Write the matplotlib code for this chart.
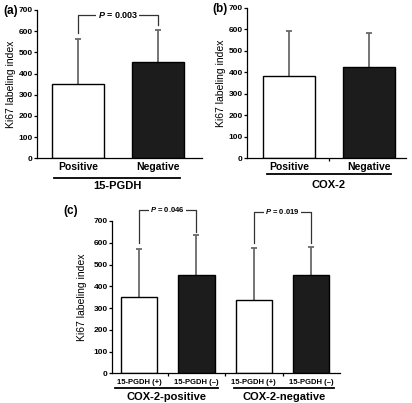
import matplotlib.pyplot as plt
from matplotlib.transforms import blended_transform_factory
from matplotlib.lines import Line2D

plt.rcParams['font.family'] = ['Liberation Sans', 'DejaVu Sans']
plt.rcParams['font.weight'] = 'bold'
plt.rcParams['mathtext.fontset'] = 'custom'
plt.rcParams['mathtext.it'] = 'Liberation Sans:italic:bold'
plt.rcParams['mathtext.rm'] = 'Liberation Sans:bold'

# panel (a): 15-PGDH
a_labels = ['Positive', 'Negative']
a_means = [349, 454]
a_errs = [216, 152]
a_group = '15-PGDH'
a_p = '0.003'

# panel (b): COX-2
b_labels = ['Positive', 'Negative']
b_means = [383, 425]
b_errs = [210, 160]
b_group = 'COX-2'

# panel (c): 15-PGDH within COX-2 groups
c_labels = ['15-PGDH (+)', '15-PGDH (\u2013)', '15-PGDH (+)', '15-PGDH (\u2013)']
c_means = [349, 451, 339, 451]
c_errs = [221, 184, 235, 128]
c_groups = ['COX-2-positive', 'COX-2-negative']
c_p = ['0.046', '0.019']

W, H = 412, 403
fig = plt.figure(figsize=(W / 100, H / 100), dpi=100)


def px_axes(x0, x1, y0, y1):
    # y0 = pixel row of value 0, y1 = pixel row of value 700
    return fig.add_axes([x0 / W, (H - y0) / H, (x1 - x0) / W, (y0 - y1) / H])


def style(ax, means, errs, width, xlim, mid_ticks):
    x = list(range(len(means)))
    colors = ['white' if i % 2 == 0 else '#1c1c1c' for i in x]
    ax.bar(x, means, width=width, color=colors, edgecolor='black', linewidth=1.0, zorder=2)
    tops = [m + e for m, e in zip(means, errs)]
    ax.vlines(x, means, tops, color='#6a6a6a', lw=1.3, zorder=1)
    ax.plot(x, tops, ls='none', marker='_', ms=4, mew=1.3, color='#6a6a6a', zorder=1)
    ax.set_ylim(0, 700)
    ax.set_xlim(*xlim)
    ax.set_yticks(range(0, 701, 100))
    ax.spines['top'].set_visible(False)
    ax.spines['right'].set_visible(False)
    for s in ['left', 'bottom']:
        ax.spines[s].set_linewidth(0.9)
    ax.tick_params(axis='y', length=2.2, width=0.9, labelsize=6, pad=0.8)
    ax.set_xticks(x)
    ax.tick_params(axis='x', length=0, labelsize=7.5)
    ax.set_xticks(mid_ticks, minor=True)
    ax.tick_params(axis='x', which='minor', length=2.5, width=0.9)
    ax.set_ylabel('Ki67 labeling index', fontsize=7.5, labelpad=3)


def bracket(ax, x0, x1, top, y0, y1, p, fs):
    ax.plot([x0, x0, x1, x1], [y0, top, top, y1], color='#333333', lw=0.9, clip_on=False, zorder=3)
    ax.text((x0 + x1) / 2, top, '$P$ = ' + p, ha='center', va='center', fontsize=fs,
            bbox=dict(facecolor='white', edgecolor='none', pad=1.0), zorder=4, clip_on=False)


def group_line(ax, x0, x1, y_line, y_text, label, fs):
    tr = blended_transform_factory(ax.transData, ax.transAxes)
    ax.add_line(Line2D([x0, x1], [y_line, y_line], transform=tr, color='black', lw=1.3, clip_on=False))
    ax.text((x0 + x1) / 2, y_text, label, transform=tr, ha='center', va='center', fontsize=fs)


# (a)
ax1 = px_axes(37, 202, 158.3, 10)
style(ax1, a_means, a_errs, 0.65, (-0.51, 1.55), [])
ax1.set_xticklabels(a_labels)
ax1.tick_params(axis='x', pad=3)
ax1.yaxis.set_label_coords(-0.128, 0.5)
bracket(ax1, 0, 1, 676, 590, 629, a_p, 6.5)
group_line(ax1, -0.30, 1.28, -0.131, -0.185, a_group, 8)
fig.text(3 / W, 1 - 11 / H, '(a)', fontsize=8.5, va='center')

# (b)
ax2 = px_axes(247, 406, 158.3, 8)
style(ax2, b_means, b_errs, 0.65, (-0.53, 1.46), [0.5])
ax2.set_xticklabels(b_labels)
ax2.tick_params(axis='x', pad=3)
ax2.yaxis.set_label_coords(-0.13, 0.5)
group_line(ax2, -0.28, 1.27, -0.106, -0.178, b_group, 8)
fig.text(212 / W, 1 - 9 / H, '(b)', fontsize=8.5, va='center')

# (c)
ax3 = px_axes(112, 340, 373.3, 221)
style(ax3, c_means, c_errs, 0.63, (-0.47, 3.5), [0.5, 1.5, 2.5])
ax3.set_xticklabels(c_labels)
ax3.tick_params(axis='x', labelsize=5.5, pad=4)
ax3.yaxis.set_label_coords(-0.11, 0.5)
bracket(ax3, 0, 1, 751, 600, 650, c_p[0], 5.5)
bracket(ax3, 2, 3, 743, 598, 598, c_p[1], 5.5)
group_line(ax3, -0.42, 1.37, -0.099, -0.158, c_groups[0], 8)
group_line(ax3, 1.65, 3.40, -0.099, -0.158, c_groups[1], 8)
fig.text(63 / W, 1 - 211 / H, '(c)', fontsize=8.5, va='center')

fig.savefig('out.png', dpi=100)
